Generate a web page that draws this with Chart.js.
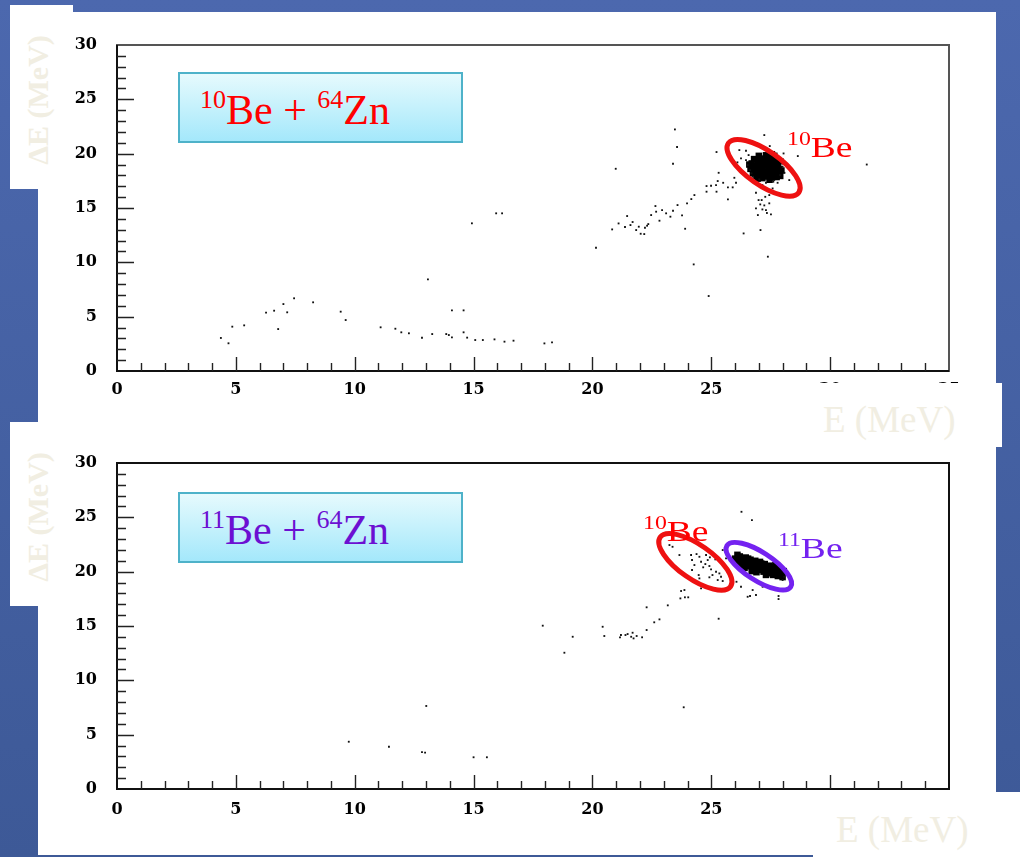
<!DOCTYPE html>
<html>
<head>
<meta charset="utf-8">
<script src="https://cdn.jsdelivr.net/npm/chart.js@4.4.1/dist/chart.umd.min.js"></script>
<style>
  body { margin: 0; width: 1020px; height: 857px; overflow: hidden;
         background: linear-gradient(to bottom, #4c68ae, #3d5997); position: relative; }
  .pan { position: absolute; background: #fff; }
  .lab { position: absolute; color: #f1eee2; font-family: "Liberation Serif", serif; white-space: nowrap; }
  .dE { font-weight: bold; font-size: 30px; transform: rotate(-90deg); transform-origin: center; }
  .eM { font-size: 37px; font-weight: normal; }
  .box { position: absolute; left: 178px; width: 281px; height: 67px; border: 2px solid #4eb2c9;
         background: linear-gradient(to bottom, #e6fafd, #a4e8fb); }
  .box span.t { position: absolute; left: 20px; top: 15px; font-family: "Liberation Serif", serif;
         font-size: 42px; line-height: 42px; white-space: nowrap; }
  .sup { font-size: 26px; position: relative; top: -16px; }
  .tag { position: absolute; font-family: "Liberation Serif", serif; font-size: 30px; line-height: 30px;
         transform: scaleX(1.25); transform-origin: left; white-space: nowrap; z-index: 3; }
  .tag .s { font-size: 19px; position: relative; top: -12px; }
  canvas { position: absolute; left: 0; z-index: 1; }
</style>
</head>
<body>
<div class="pan" style="left:38px;top:12px;width:958px;height:843px"></div>
<div class="pan" style="left:10px;top:5px;width:63px;height:184px"></div>
<div class="pan" style="left:10px;top:422px;width:63px;height:184px"></div>
<div class="lab dE" style="left:-27px;top:83px;">ΔE (MeV)</div>
<div class="lab dE" style="left:-27px;top:500px;">ΔE (MeV)</div>

<canvas id="c1" width="1020" height="430" style="top:0"></canvas>
<canvas id="c2" width="1020" height="427" style="top:430px"></canvas>

<div class="pan" style="left:819px;top:383px;width:183px;height:64px;z-index:2"></div>
<div class="pan" style="left:813px;top:792px;width:207px;height:65px;z-index:2"></div>
<div class="lab eM" style="left:823px;top:398px;z-index:3">E (MeV)</div>
<div class="lab eM" style="left:836px;top:808px;z-index:3">E (MeV)</div>

<div class="box" style="top:72px;z-index:2"><span class="t" style="color:#ff0000"><span class="sup">10</span>Be + <span class="sup">64</span>Zn</span></div>
<div class="box" style="top:492px;z-index:2"><span class="t" style="color:#6c10d2"><span class="sup">11</span>Be + <span class="sup">64</span>Zn</span></div>

<div class="tag" style="left:787px;top:132px;color:#ff0000"><span class="s">10</span>Be</div>
<div class="tag" style="left:643px;top:516px;color:#ff0000"><span class="s">10</span>Be</div>
<div class="tag" style="left:778px;top:533px;color:#7422f0"><span class="s">11</span>Be</div>

<script>
// axes
const eTicks = [0, 5, 10, 15, 20, 25, 30, 35];
const dETicks = [0, 5, 10, 15, 20, 25, 30];

// 10Be + 64Zn : isolated events
const topX = [4.37, 4.69, 4.85, 5.35, 6.27, 6.61, 6.78, 7.0, 7.16, 7.45, 8.25, 9.41, 9.62, 11.09, 11.71, 11.96, 12.28, 12.83, 13.08, 13.26,
  13.85, 13.96, 14.09, 14.09, 14.58, 14.58, 14.73, 14.93, 15.07, 15.39, 15.88, 15.95, 16.2, 16.3, 16.68, 17.98, 18.3, 20.15, 20.98, 23.47,
  23.56, 23.39, 24.26, 24.89, 20.83, 21.1, 21.46, 21.37, 21.6, 21.69, 21.84, 21.95, 22.03, 22.18, 22.21, 22.3, 22.35, 22.47, 22.65, 22.68,
  22.82, 22.93, 23.1, 23.28, 23.39, 23.58, 23.77, 23.9, 23.98, 24.16, 24.29, 24.8, 24.8, 24.99, 25.2, 25.27, 25.22, 25.31, 25.5, 25.7,
  25.7, 25.9, 25.97, 26.04, 25.22, 25.62, 26.88, 26.99, 27.12, 27.27, 27.44, 27.06, 27.23, 26.88, 27.15, 27.3, 27.44, 26.96, 27.51, 27.34,
  27.07, 26.36, 27.38, 27.23, 27.46, 28.04, 28.08, 28.28, 28.64, 31.54, 26.1, 26.25, 26.46, 26.57, 26.18, 26.46, 26.63, 26.74, 27.02, 27.3,
  27.58, 27.79, 27.9, 28.0, 27.89, 27.69, 26.53, 26.69, 27.15, 27.61, 26.74, 26.95];
const topY = [3.04, 2.55, 4.08, 4.20, 5.37, 5.55, 3.86, 6.16, 5.40, 6.69, 6.32, 5.46, 4.69, 4.02, 3.89, 3.56, 3.47, 3.06, 8.43, 3.40,
  3.40, 3.31, 3.10, 5.58, 5.58, 3.56, 3.07, 13.59, 2.85, 2.85, 2.91, 14.51, 14.51, 2.70, 2.79, 2.54, 2.63, 11.34, 18.61, 22.23,
  20.61, 19.07, 9.81, 6.90, 13.03, 13.58, 14.26, 13.25, 13.43, 13.71, 12.97, 13.28, 12.63, 12.6, 13.18, 13.37, 13.52, 14.35, 15.18, 14.66,
  13.83, 14.81, 14.51, 14.2, 14.75, 15.27, 14.32, 13.09, 15.43, 15.82, 16.19, 17.02, 16.5, 17.05, 17.11, 17.48, 16.5, 18.24, 17.32, 16.9,
  15.8, 16.9, 17.78, 17.32, 20.15, 20.27, 16.4, 15.73, 15.73, 16.03, 16.19, 15.33, 15.24, 14.96, 14.87, 14.81, 15.43, 14.35, 14.41, 14.54,
  12.97, 12.66, 10.52, 21.71, 20.7, 20.02, 18.24, 17.57, 19.78, 19.0, 19.2, 19.56, 19.41, 19.87, 20.33, 20.27, 18.49, 17.88, 17.63, 17.32,
  16.8, 17.32, 18.03, 18.8, 19.41, 19.96, 18.95, 18.19, 17.11, 17.42, 17.57, 17.26];

// 10Be + 64Zn : dense elastic peak
const topPeakX = [26.65, 26.7, 26.75, 26.8, 26.85, 26.9, 26.95, 27.0, 27.0, 27.05, 27.1, 27.15, 27.15, 27.2, 27.25, 27.3, 27.3, 27.35, 27.4, 27.4,
  27.45, 27.5, 27.5, 27.55, 27.6, 27.6, 27.65, 27.7, 27.7, 27.75, 27.8, 27.8, 27.85, 27.9, 27.9, 26.6, 26.9, 27.05, 27.25, 27.35,
  27.45, 27.55, 27.65, 27.95, 26.8, 27.2, 27.5, 26.95];
const topPeakY = [18.6, 19.1, 18.2, 19.5, 18.85, 17.95, 19.3, 18.5, 19.8, 18.1, 19.05, 18.7, 17.75, 19.45, 18.35, 19.85, 18.95, 17.9, 18.6, 19.3,
  18.2, 19.65, 18.9, 17.8, 18.45, 19.15, 18.05, 19.5, 18.7, 17.85, 18.3, 19.0, 18.6, 19.3, 17.95, 19.0, 18.3, 19.55, 18.0, 19.6,
  17.6, 19.95, 19.8, 18.45, 18.5, 18.95, 18.55, 17.7];

// 11Be + 64Zn : isolated events
const botX = [9.75, 11.44, 13.01, 12.83, 12.96, 15.0, 15.56, 23.84, 18.82, 17.91, 19.17, 20.43, 20.5, 21.16, 21.2, 21.39, 21.48, 21.63, 21.73, 21.86,
  22.09, 21.69, 22.28, 22.6, 22.82, 22.28, 23.17, 25.31, 23.7, 23.89, 24.03, 23.73, 23.87, 26.27, 26.71, 23.24, 23.37, 23.66, 24.15, 24.19,
  24.38, 24.5, 24.57, 24.75, 24.85, 24.92, 24.99, 24.66, 25.2, 25.34, 25.41, 25.05, 24.19, 24.47, 24.92, 24.5, 25.27, 25.48, 24.57, 25.34,
  25.17, 24.29, 24.78, 24.94, 25.9, 26.06, 26.53, 26.63, 26.88, 27.83, 27.83, 26.25, 26.74, 27.16, 28.0, 28.07, 25.48, 25.62];
const botY = [4.35, 3.89, 7.64, 3.40, 3.34, 2.92, 2.92, 7.52, 12.54, 15.03, 14.01, 14.93, 14.08, 13.96, 14.17, 14.17, 14.26, 14.01, 13.86, 14.08,
  13.96, 14.38, 14.63, 15.34, 15.61, 16.72, 16.9, 15.67, 17.54, 17.64, 17.64, 18.22, 18.31, 25.51, 24.75, 22.45, 22.29, 21.53, 21.53, 21.07,
  21.62, 21.37, 20.91, 20.7, 21.07, 20.52, 20.21, 20.4, 19.99, 19.84, 19.53, 19.69, 20.15, 19.69, 19.48, 19.38, 19.23, 19.14, 18.46, 18.31,
  21.13, 20.61, 21.53, 21.32, 18.92, 19.07, 17.69, 17.76, 17.85, 17.76, 17.48, 18.61, 18.31, 18.61, 19.23, 19.53, 21.99, 21.22];

// 11Be + 64Zn : dense elastic peak
const botPeakX = [26.0, 26.1, 26.2, 26.3, 26.35, 26.45, 26.5, 26.6, 26.65, 26.75, 26.8, 26.85, 26.95, 27.0, 27.05, 27.15, 27.2, 27.25, 27.35, 27.4,
  27.45, 27.55, 27.6, 27.65, 27.75, 27.8, 27.85, 27.95, 28.0, 26.25, 26.55, 26.9, 27.3, 27.7, 26.1, 28.05, 26.7, 27.1, 27.5, 26.4];
const botPeakY = [21.2, 20.9, 21.4, 21.0, 20.6, 21.3, 20.85, 20.5, 21.1, 20.75, 20.3, 21.0, 20.55, 20.15, 20.9, 20.4, 20.0, 20.7, 20.25, 19.85,
  20.55, 20.1, 19.7, 20.4, 19.95, 19.6, 20.2, 19.8, 19.5, 20.7, 21.2, 19.95, 19.7, 20.6, 21.55, 20.05, 20.05, 20.75, 20.3, 20.35];

// gates drawn around the peaks (centre in data units)
const topGates = [{ x: 27.2, y: 18.7, a: 43, b: 17, rot: 35, color: '#ee1111' }];
const botGates = [
  { x: 24.33, y: 20.9, a: 43, b: 17, rot: 35, color: '#ee1111' },
  { x: 27.0, y: 20.5, a: 38, b: 14, rot: 33, color: '#7422f0' }
];

const zip = (xs, ys) => xs.map((v, i) => ({ x: v, y: ys[i] }));

function framePlugin(frameColor) {
  return {
    id: 'frame',
    afterDraw(chart) {
      const { ctx, chartArea: a, scales: { x, y } } = chart;
      ctx.save();
      ctx.strokeStyle = frameColor;
      ctx.lineWidth = 2;
      ctx.strokeRect(a.left, a.top, a.right - a.left, a.bottom - a.top);
      ctx.strokeStyle = '#111';
      ctx.beginPath();
      ctx.moveTo(a.left, a.top); ctx.lineTo(a.left, a.bottom); ctx.lineTo(a.right, a.bottom);
      ctx.stroke();
      ctx.lineWidth = 1.4;
      ctx.strokeStyle = '#222';
      ctx.beginPath();
      for (let v = x.min + 1; v < x.max; v++) {
        const px = Math.round(x.getPixelForValue(v)) + 0.5;
        ctx.moveTo(px, a.bottom);
        ctx.lineTo(px, a.bottom - (v % 5 === 0 ? 14 : 8));
      }
      for (let v = y.min + 1; v < y.max; v++) {
        const py = Math.round(y.getPixelForValue(v)) + 0.5;
        ctx.moveTo(a.left, py);
        ctx.lineTo(a.left + (v % 5 === 0 ? 17 : 9), py);
      }
      ctx.stroke();
      ctx.restore();
    }
  };
}

function gatePlugin(gates) {
  return {
    id: 'gates',
    afterDatasetsDraw(chart) {
      const { ctx, scales: { x, y } } = chart;
      ctx.save();
      ctx.lineWidth = 5;
      gates.forEach(g => {
        ctx.strokeStyle = g.color;
        ctx.beginPath();
        ctx.ellipse(x.getPixelForValue(g.x), y.getPixelForValue(g.y), g.a, g.b, g.rot * Math.PI / 180, 0, Math.PI * 2);
        ctx.stroke();
      });
      ctx.restore();
    }
  };
}

function makeChart(id, events, peak, gates, padTop, xHeight, frameColor, labelPad) {
  return new Chart(document.getElementById(id), {
    type: 'scatter',
    data: {
      datasets: [
        { data: zip(events[0], events[1]), pointStyle: 'rect', pointRadius: 1.3, borderWidth: 0, backgroundColor: '#111' },
        { data: zip(peak[0], peak[1]), pointStyle: 'rect', pointRadius: 4.6, borderWidth: 0, backgroundColor: '#000' }
      ]
    },
    options: {
      responsive: false,
      animation: false,
      events: [],
      layout: { padding: { top: padTop, right: 71, left: 0, bottom: 0 } },
      plugins: { legend: { display: false }, tooltip: { enabled: false } },
      scales: {
        x: {
          type: 'linear', min: 0, max: 35,
          afterFit: s => { s.height = xHeight; },
          afterBuildTicks: s => { s.ticks = eTicks.map(v => ({ value: v })); },
          grid: { display: false, drawTicks: false },
          border: { display: false },
          ticks: { padding: labelPad, color: '#000', font: { family: 'DejaVu Serif', weight: 'bold', size: 16 } }
        },
        y: {
          type: 'linear', min: 0, max: 30,
          afterFit: s => { s.width = 117; },
          afterBuildTicks: s => { s.ticks = dETicks.map(v => ({ value: v })); },
          grid: { display: false, drawTicks: false },
          border: { display: false },
          ticks: { padding: 20, color: '#000', font: { family: 'DejaVu Serif', weight: 'bold', size: 16 } }
        }
      }
    },
    plugins: [framePlugin(frameColor), gatePlugin(gates)]
  });
}

makeChart('c1', [topX, topY], [topPeakX, topPeakY], topGates, 45, 59, '#555', 9);
makeChart('c2', [botX, botY], [botPeakX, botPeakY], botGates, 33, 68, '#111', 11);
</script>
</body>
</html>
